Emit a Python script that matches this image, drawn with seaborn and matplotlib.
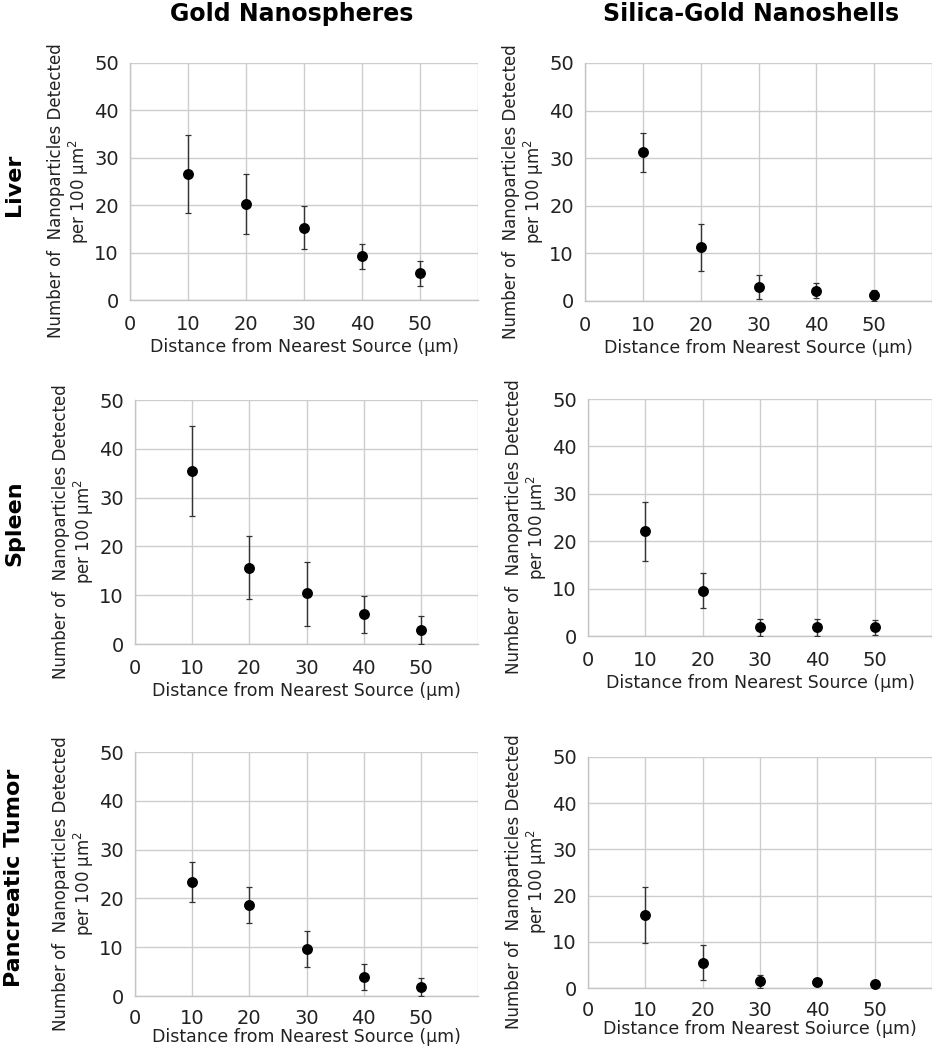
import matplotlib
matplotlib.use("Agg")
import matplotlib.pyplot as plt
import seaborn as sns
import numpy as np
import pandas as pd

sns.set_theme(style="white")
plt.rcParams['font.family'] = ['DejaVu Sans']

distance = [10, 20, 30, 40, 50]
x_ticks = [0, 10, 20, 30, 40, 50, 60]
x_tick_labels = ["0", "10", "20", "30", "40", "50", ""]
y_ticks = [0, 10, 20, 30, 40, 50]

col_titles = ["Gold Nanospheres", "Silica-Gold Nanoshells"]
row_titles = ["Liver", "Spleen", "Pancreatic Tumor"]

# Gold nanospheres
gold_liver_mean = [26.6, 20.2, 15.2, 9.2, 5.7]
gold_liver_lo = [18.3, 13.9, 10.7, 6.6, 3.0]
gold_liver_hi = [34.8, 26.6, 19.8, 11.8, 8.3]

gold_spleen_mean = [35.5, 15.6, 10.4, 6.1, 2.9]
gold_spleen_lo = [26.2, 9.2, 3.7, 2.3, 0.0]
gold_spleen_hi = [44.7, 22.1, 16.8, 9.8, 5.7]

gold_tumor_mean = [23.4, 18.6, 9.6, 3.9, 1.8]
gold_tumor_lo = [19.3, 14.9, 5.9, 1.2, 0.0]
gold_tumor_hi = [27.5, 22.3, 13.3, 6.6, 3.6]

# Silica-gold nanoshells
shell_liver_mean = [31.3, 11.3, 3.0, 2.2, 1.2]
shell_liver_lo = [27.1, 6.3, 0.5, 0.6, 0.1]
shell_liver_hi = [35.3, 16.2, 5.5, 3.8, 2.3]

shell_spleen_mean = [22.2, 9.5, 1.9, 1.9, 1.9]
shell_spleen_lo = [15.8, 5.9, 0.0, 0.0, 0.2]
shell_spleen_hi = [28.3, 13.3, 3.6, 3.6, 3.4]

shell_tumor_mean = [15.8, 5.4, 1.5, 1.3, 0.9]
shell_tumor_lo = [9.7, 1.7, 0.0, 1.3, 0.9]
shell_tumor_hi = [21.8, 9.3, 2.8, 1.3, 0.9]

xlabels = ["Distance from Nearest Source (\u03bcm)", "Distance from Nearest Source (\u03bcm)",
           "Distance from Nearest Source (\u03bcm)", "Distance from Nearest Source (\u03bcm)",
           "Distance from Nearest Source (\u03bcm)", "Distance from Nearest Soiurce (\u03bcm)"]
ylabel = "Number of  Nanoparticles Detected\nper 100 \u03bcm$^2$"

panels = [
    (gold_liver_mean, gold_liver_lo, gold_liver_hi),
    (shell_liver_mean, shell_liver_lo, shell_liver_hi),
    (gold_spleen_mean, gold_spleen_lo, gold_spleen_hi),
    (shell_spleen_mean, shell_spleen_lo, shell_spleen_hi),
    (gold_tumor_mean, gold_tumor_lo, gold_tumor_hi),
    (shell_tumor_mean, shell_tumor_lo, shell_tumor_hi),
]

W, H = 932, 1050
fig = plt.figure(figsize=(W / 100, H / 100), dpi=100)

# pixel boxes: left, right, top, bottom
boxes = [
    (130, 478, 63, 300), (585, 932, 63, 301),
    (135, 478, 400, 644), (588, 932, 399, 636),
    (135, 478, 752, 996), (588, 932, 757, 988),
]

for i, ((m, lo, hi), (l, r, t, b)) in enumerate(zip(panels, boxes)):
    ax = fig.add_axes([l / W, 1 - b / H, (r - l) / W, (b - t) / H])
    df = pd.DataFrame({"distance": distance, "count": m})
    yerr = np.array([np.array(m) - np.array(lo), np.array(hi) - np.array(m)])
    ax.errorbar(df["distance"], df["count"], yerr=yerr, fmt="none",
                ecolor="#333333", elinewidth=1.0, capsize=2.2, capthick=0.9, zorder=3)
    sns.scatterplot(data=df, x="distance", y="count", ax=ax, color="black",
                    s=62, edgecolor="black", linewidth=0, zorder=4, clip_on=False)
    ax.set_xlim(0, 60)
    ax.set_ylim(0, 50)
    ax.set_xticks(x_ticks)
    ax.set_xticklabels(x_tick_labels)
    ax.set_yticks(y_ticks)
    ax.grid(True, color="#cdcdcd", linewidth=1.0)
    ax.set_axisbelow(True)
    for s in ["top", "right"]:
        ax.spines[s].set_visible(False)
    for s in ["left", "bottom"]:
        ax.spines[s].set_color("#c4c4c4")
        ax.spines[s].set_linewidth(1.0)
    bottom_row = i >= 4
    ax.tick_params(axis="both", length=0, labelsize=14, colors="#222222")
    ax.tick_params(axis="y", pad=8)
    ax.tick_params(axis="x", pad=9 if bottom_row else 11)
    ax.set_xlabel(xlabels[i], fontsize=12.5, color="#222222",
                  labelpad=0 if bottom_row else 3)
    ax.set_ylabel(ylabel, fontsize=12, color="#222222", linespacing=1.1)
    ax.yaxis.set_label_coords(-39 / (r - l), 0.46)

# column titles
fig.text(292 / W, 1 - 14 / H, col_titles[0], ha="center", va="center",
         fontsize=17, fontweight="bold", color="black")
fig.text(751 / W, 1 - 14 / H, col_titles[1], ha="center", va="center",
         fontsize=17, fontweight="bold", color="black")

# row titles
for name, yc in zip(row_titles, [185, 523, 878]):
    fig.text(14 / W, 1 - yc / H, name, ha="center", va="center", rotation=90,
             fontsize=16, fontweight="bold", color="black")

fig.savefig("out.png", dpi=100, facecolor="white")
